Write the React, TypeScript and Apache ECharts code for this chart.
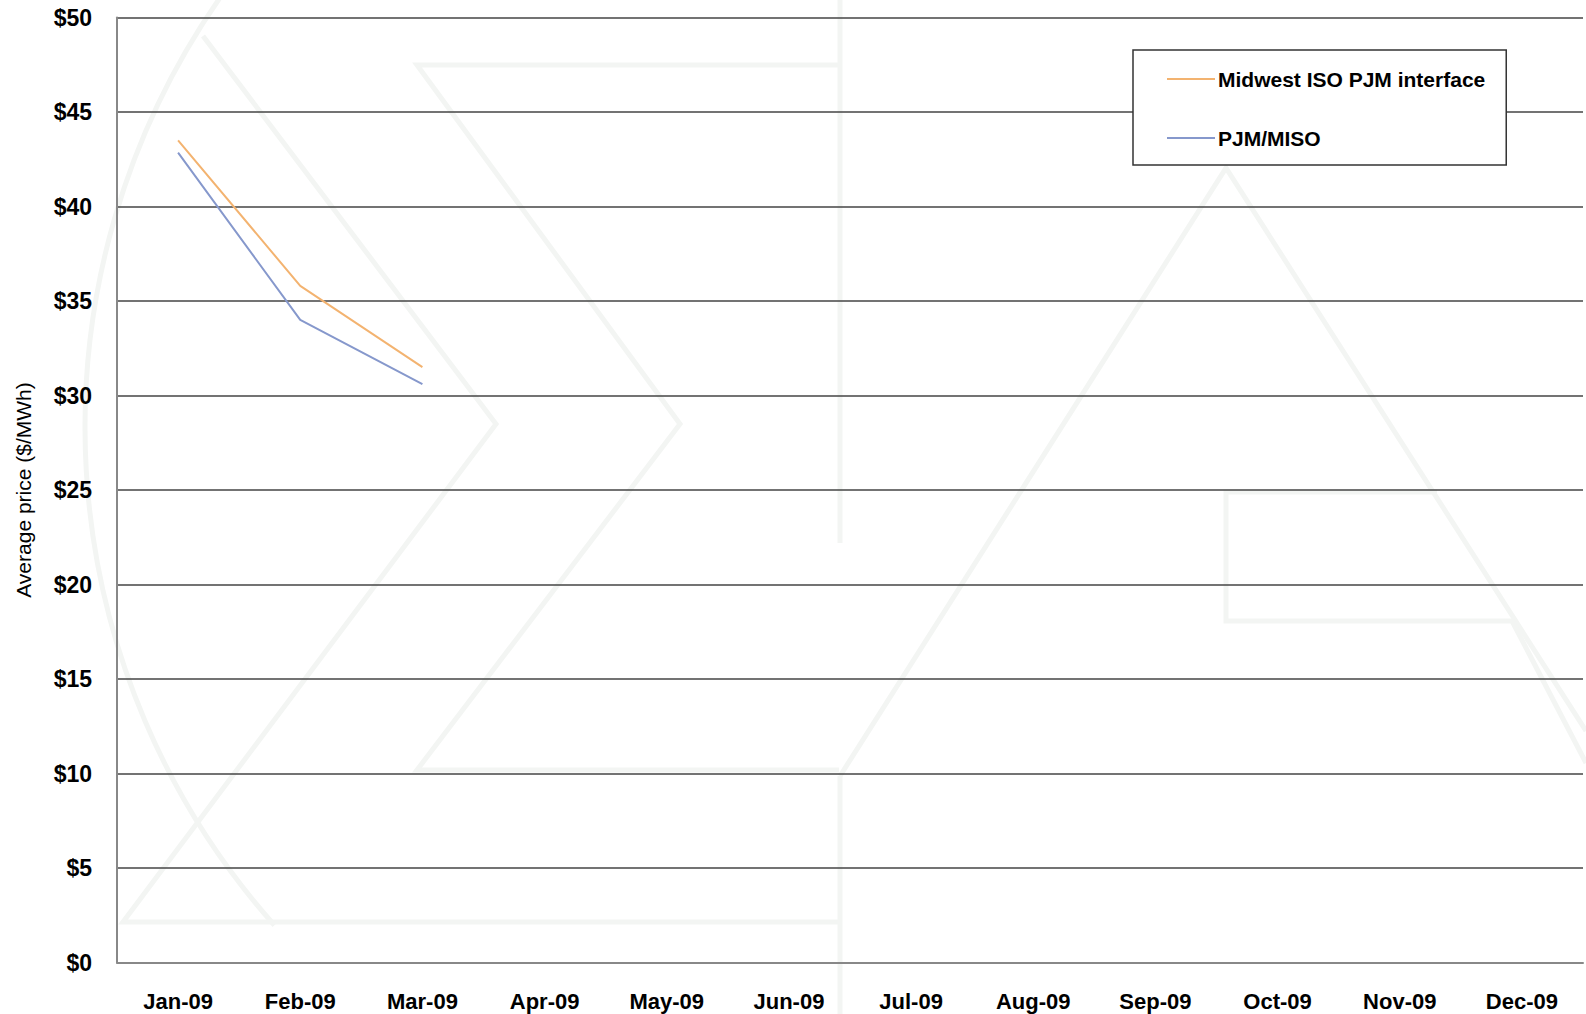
import React, { useEffect, useRef } from "react";
import * as echarts from "echarts";

const categories = ["Jan-09", "Feb-09", "Mar-09", "Apr-09", "May-09", "Jun-09", "Jul-09", "Aug-09", "Sep-09", "Oct-09", "Nov-09", "Dec-09"];
const midwestIsoPjm = [43.5, 35.8, 31.5];
const pjmMiso = [42.85, 34.0, 30.6];
const yTicks = [0, 5, 10, 15, 20, 25, 30, 35, 40, 45, 50];

const FONT = "'Liberation Sans Narrow', 'Arial Narrow', 'Liberation Sans', Arial, sans-serif";

const WATERMARK: number[][][] = [
  [[203, 36], [496, 424], [123, 922], [839, 922]],
  [[839, 65], [417, 65], [680, 424], [417, 770], [839, 770]],
  [[840, 0], [840, 543]],
  [[840, 776], [840, 1014]],
  [[840, 776], [1226, 168], [1586, 731]],
  [[1437, 492], [1226, 492], [1226, 621], [1512, 621], [1586, 763]],
];

export default function App() {
  const ref = useRef<HTMLDivElement>(null);
  useEffect(() => {
    document.body.style.margin = "0";
    const chart = echarts.init(ref.current!, null, { renderer: "svg" });
    const wm = { stroke: "#f3f5f3", lineWidth: 5, fill: "none" } as any;
    chart.setOption({
      animation: false,
      backgroundColor: "#ffffff",
      graphic: [
        ...WATERMARK.map((pts) => ({ type: "polyline", silent: true, z: -10, shape: { points: pts }, style: wm })),
        { type: "arc", silent: true, z: -10, shape: { cx: 835, cy: 427, r: 750, startAngle: 2.415, endAngle: 3.75, clockwise: true }, style: wm },
      ],
      grid: { left: 117, right: 3, top: 17.5, bottom: 51.5, containLabel: false },
      legend: {
        show: true,
        left: 1133,
        top: 50,
        orient: "vertical",
        backgroundColor: "#ffffff",
        borderColor: "#333333",
        borderWidth: 1.5,
        padding: [17, 21, 15, 34],
        itemGap: 35,
        itemWidth: 48,
        itemHeight: 2,
        icon: "rect",
        textStyle: { fontFamily: FONT, fontSize: 21, lineHeight: 24, fontWeight: "bold", color: "#000", padding: [0, 0, 0, -2] },
        data: ["Midwest ISO PJM interface", "PJM/MISO"],
      },
      xAxis: {
        type: "category",
        data: categories,
        boundaryGap: true,
        axisLine: { show: true, lineStyle: { color: "#888888", width: 2 } },
        axisTick: { show: false },
        axisLabel: { fontFamily: FONT, fontSize: 22, fontWeight: "bold", color: "#000", margin: 28, interval: 0 },
        splitLine: { show: false },
      },
      yAxis: {
        type: "value",
        min: 0,
        max: 50,
        interval: 5,
        name: "Average price ($/MWh)",
        nameLocation: "middle",
        nameGap: 83,
        nameTextStyle: { fontFamily: FONT, fontSize: 21, color: "#000" },
        axisLine: { show: true, lineStyle: { color: "#888888", width: 2 } },
        axisTick: { show: false },
        axisLabel: {
          fontFamily: FONT, fontSize: 23, fontWeight: "bold", color: "#000", margin: 25,
          formatter: (v: number) => (yTicks.includes(v) ? "$" + v : ""),
        },
        splitLine: { show: true, lineStyle: { color: "#444444", width: 1.5 } },
      },
      series: [
        {
          name: "Midwest ISO PJM interface",
          type: "line",
          data: midwestIsoPjm,
          symbol: "none",
          lineStyle: { color: "#f3b370", width: 2 },
          itemStyle: { color: "#f3b370" },
        },
        {
          name: "PJM/MISO",
          type: "line",
          data: pjmMiso,
          symbol: "none",
          lineStyle: { color: "#8698cc", width: 2 },
          itemStyle: { color: "#8698cc" },
        },
      ],
    });
    return () => chart.dispose();
  }, []);
  return <div ref={ref} style={{ width: 1586, height: 1014 }} />;
}
